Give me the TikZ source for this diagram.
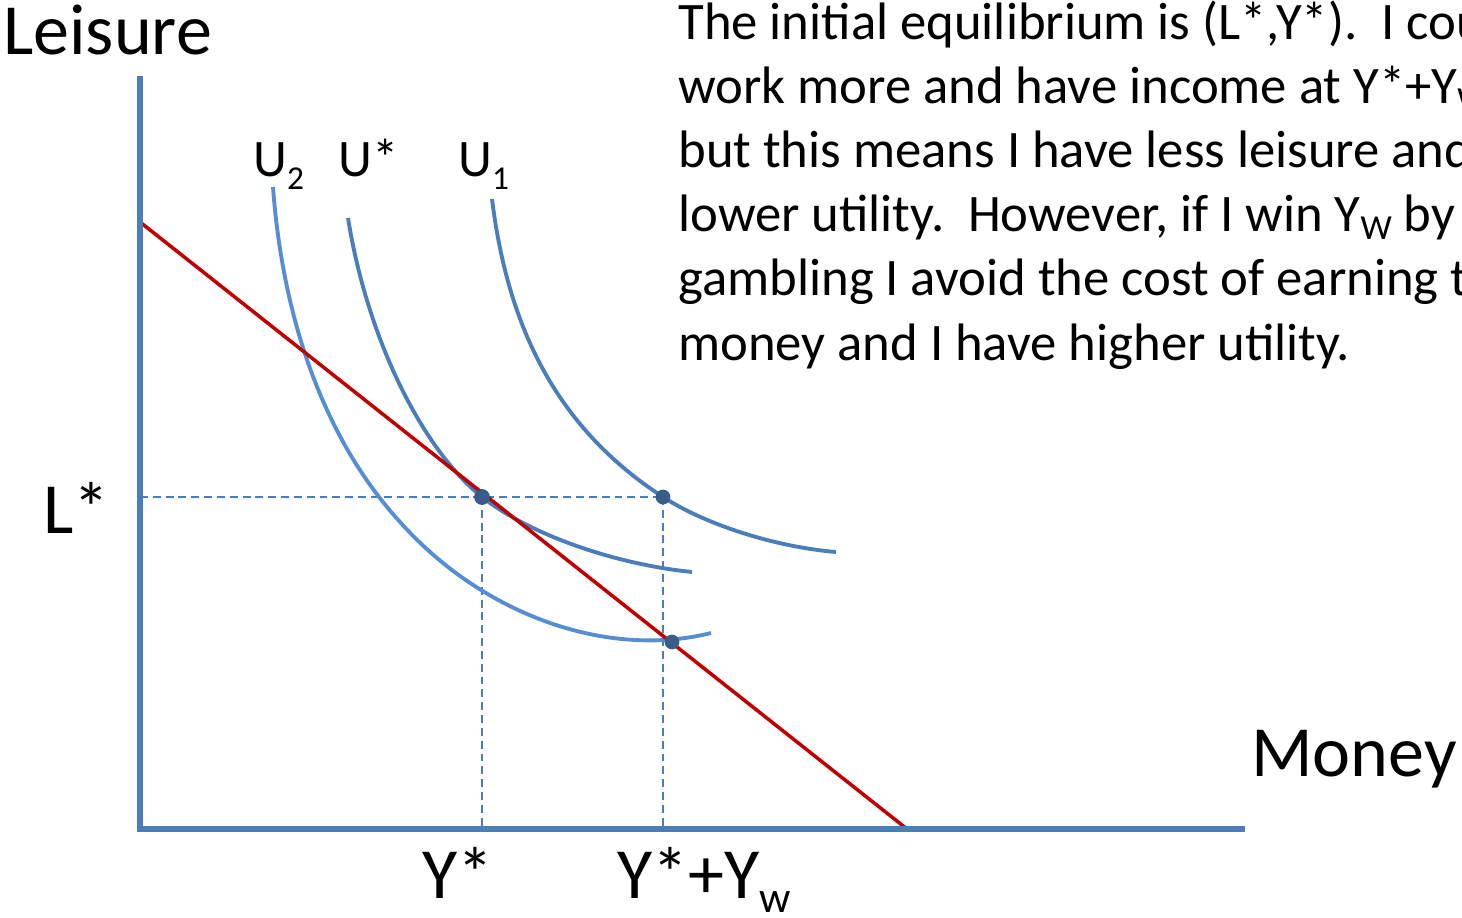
\documentclass[tikz,border=0pt]{standalone}
\usepackage{fontspec}
\setmainfont{Carlito}
\definecolor{axisblue}{HTML}{4A7EBB}
\definecolor{curveblue}{HTML}{4A7EBB}
\definecolor{lightblue}{HTML}{558ED5}
\definecolor{dotblue}{HTML}{385D8A}
\definecolor{budgetred}{HTML}{C00000}
\newcommand{\dropsub}[3]{\raisebox{-#2}{\fontsize{#1}{#1}\selectfont #3}}
\tikzset{
  axis/.style={line width=3.4pt,draw=axisblue},
  budget/.style={line width=2pt,draw=budgetred},
  indiff/.style={line width=2.2pt,draw=curveblue},
  guide/.style={line width=1pt,draw=axisblue,dash pattern=on 4.5pt off 2.8pt},
  eqdot/.style={fill=dotblue},
  biglabel/.style={anchor=base west,inner sep=0pt,font=\fontsize{41}{49}\selectfont},
  ulabel/.style={anchor=base west,inner sep=0pt,font=\fontsize{30}{36}\selectfont},
  para/.style={anchor=base west,inner sep=0pt,font=\fontsize{30}{36.4}\selectfont}
}
\begin{document}
\begin{tikzpicture}[x=0.02cm,y=-0.02cm]
\useasboundingbox (0,0) rectangle (1462,918);
\clip (0,0) rectangle (1462,918);
\coordinate (O) at (140,829);
\coordinate (ytop) at (140,76);
\coordinate (xend) at (1245,829);
\coordinate (B1) at (140,222);
\coordinate (B2) at (907,829);
\coordinate (E0) at (482,497);
\coordinate (E1) at (663,497);
\coordinate (E2) at (672,642);
% guides
\draw[guide] (O |- E0) -- (E1);
\draw[guide] (E0) -- (E0 |- O);
\draw[guide] (E1) -- (E1 |- O);
% indifference curves
\draw[indiff,draw=lightblue] (273,187) .. controls (283,323) and (326,441) .. (400,522)
  .. controls (483,615) and (607,659) .. (711,633);
\draw[indiff] (348,218) .. controls (367,337) and (421,448) .. (E0)
  .. controls (529,534) and (613,564) .. (692,572);
\draw[indiff] (492,199) .. controls (509,337) and (563,432) .. (E1)
  .. controls (706,525) and (776,547) .. (836,552);
\draw[budget] (B1) -- (B2);
\draw[axis] (ytop) -- (O) -- (xend);
\fill[eqdot] (E0) circle[radius=4.5pt];
\fill[eqdot] (E1) circle[radius=4.2pt];
\fill[eqdot] (E2) circle[radius=4.2pt];
% labels
\node[biglabel] (leisure) at (3,55) {Leisure};
\node[biglabel] (money) at (1251,776) {Money};
\node[biglabel] (lstar) at (43,533) {L*};
\node[biglabel] (ystar) at (422,898) {Y*};
\node[biglabel] (ywin) at (617,898) {Y*+Y\dropsub{25pt}{8pt}{w}};
\node[ulabel] (u2lab) at (253,177) {U\dropsub{19pt}{7pt}{2}};
\node[ulabel] (uslab) at (338,177) {U*};
\node[ulabel] (u1lab) at (458,177) {U\dropsub{19pt}{7pt}{1}};
\foreach \ln [count=\i from 0] in {
  {The initial equilibrium is (L*,Y*).\ \ I could},
  {work more and have income at Y*+Y\dropsub{20pt}{4pt}{W}},
  {but this means I have less leisure and},
  {lower utility.\ \ However, if I win Y\dropsub{20pt}{4pt}{W} by},
  {gambling I avoid the cost of earning this},
  {money and I have higher utility.}}
  \node[para] (note\i) at (678,{40+64*\i}) {\ln};
\end{tikzpicture}
\end{document}
